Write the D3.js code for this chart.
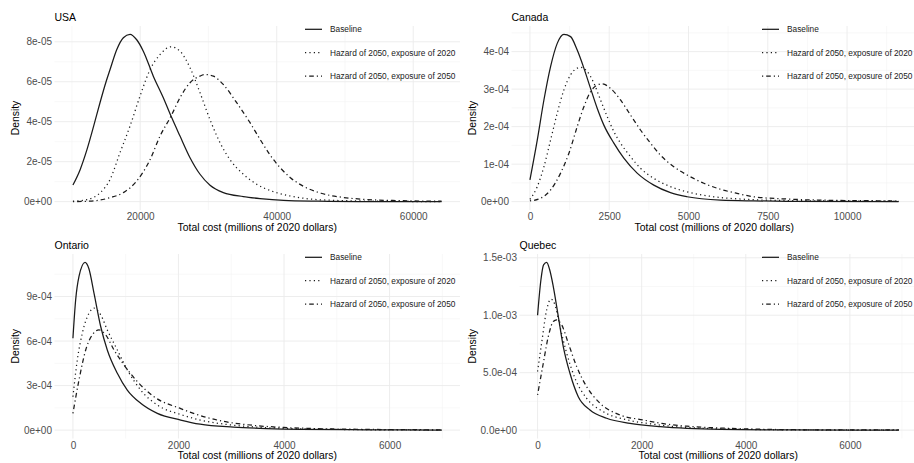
<!DOCTYPE html>
<html>
<head>
<meta charset="utf-8">
<script src="https://cdnjs.cloudflare.com/ajax/libs/d3/7.8.5/d3.min.js"></script>
<style>
  body { margin: 0; background: #fff; }
  svg { display: block; font-family: "Liberation Sans", Arial, sans-serif; }
</style>
</head>
<body>
<script>
  // Series names (legend)
  var seriesNames = ["Baseline", "Hazard of 2050, exposure of 2020", "Hazard of 2050, exposure of 2050"];
  var xTitle = "Total cost (millions of 2020 dollars)";
  var yTitle = "Density";

  // USA : [total cost, density]
  var usaBaseline = [[10146,0.83e-5],[11200,1.6e-5],[12200,2.6e-5],[13200,3.8e-5],[14150,5.0e-5],[15000,6.0e-5],[15576,6.6e-5],[16557,7.6e-5],[17533,8.2e-5],[18507,8.37e-5],[19488,8.1e-5],[20455,7.53e-5],[21920,6.28e-5],[23386,5.2e-5],[24513,4.28e-5],[25832,3.28e-5],[27297,2.2e-5],[28762,1.37e-5],[30227,0.82e-5],[32180,0.45e-5],[35111,0.25e-5],[37553,0.15e-5],[41000,0.06e-5],[46000,0.02e-5],[52000,0],[64146,0]];
  var usaExp2020 = [[10146,0.02e-5],[12195,0.1e-5],[14146,0.45e-5],[15576,1.1e-5],[17041,2.45e-5],[18507,3.78e-5],[19972,5.28e-5],[21437,6.6e-5],[22903,7.36e-5],[24513,7.75e-5],[25832,7.53e-5],[27297,6.7e-5],[28762,5.45e-5],[30227,4.1e-5],[31692,2.95e-5],[33157,2.1e-5],[35111,1.37e-5],[37064,0.87e-5],[39500,0.5e-5],[42500,0.25e-5],[46000,0.1e-5],[53000,0.03e-5],[64146,0]];
  var usaExp2050 = [[10146,0],[12195,0.02e-5],[14146,0.08e-5],[15576,0.2e-5],[17533,0.45e-5],[19488,1.03e-5],[21437,2.1e-5],[22903,3.28e-5],[24513,4.28e-5],[25832,5.2e-5],[27297,5.95e-5],[28762,6.28e-5],[29495,6.36e-5],[30716,6.28e-5],[32180,5.86e-5],[34133,4.95e-5],[36087,3.95e-5],[37553,3.12e-5],[39000,2.35e-5],[40500,1.7e-5],[42000,1.2e-5],[44000,0.75e-5],[46500,0.42e-5],[49500,0.22e-5],[53000,0.11e-5],[58000,0.05e-5],[64146,0.02e-5]];
  var usaXTicks = [20000, 40000, 60000];
  var usaYTicks = [0, 2e-5, 4e-5, 6e-5, 8e-5];
  var usaYLabels = ["0e+00", "2e-05", "4e-05", "6e-05", "8e-05"];

  // Canada
  var canBaseline = [[0,0.58e-4],[231,1.64e-4],[441,2.71e-4],[651,3.6e-4],[861,4.22e-4],[1071,4.46e-4],[1281,4.4e-4],[1491,4.04e-4],[1701,3.56e-4],[1911,3.02e-4],[2121,2.49e-4],[2331,2.04e-4],[2646,1.56e-4],[2961,1.16e-4],[3381,0.76e-4],[3906,0.44e-4],[4431,0.24e-4],[4956,0.13e-4],[6006,0.04e-4],[7056,0.02e-4],[8106,0.01e-4],[11624,0]];
  var canExp2020 = [[0,0.06e-4],[231,0.4e-4],[441,0.93e-4],[651,1.64e-4],[861,2.36e-4],[1071,2.98e-4],[1281,3.38e-4],[1491,3.56e-4],[1596,3.58e-4],[1806,3.47e-4],[2016,3.16e-4],[2226,2.71e-4],[2436,2.27e-4],[2646,1.87e-4],[2856,1.56e-4],[3171,1.2e-4],[3486,0.89e-4],[3906,0.62e-4],[4431,0.4e-4],[4956,0.26e-4],[5796,0.13e-4],[6846,0.06e-4],[8106,0.03e-4],[11624,0.01e-4]];
  var canExp2050 = [[0,0.02e-4],[336,0.09e-4],[651,0.31e-4],[966,0.76e-4],[1229,1.29e-4],[1491,2.0e-4],[1701,2.53e-4],[1911,2.93e-4],[2121,3.11e-4],[2279,3.14e-4],[2541,3.02e-4],[2856,2.71e-4],[3171,2.31e-4],[3486,1.91e-4],[3801,1.56e-4],[4116,1.24e-4],[4536,0.93e-4],[4956,0.71e-4],[5481,0.49e-4],[6006,0.33e-4],[6531,0.22e-4],[7056,0.13e-4],[8106,0.07e-4],[9156,0.04e-4],[11624,0.02e-4]];
  var canXTicks = [0, 2500, 5000, 7500, 10000];
  var canYTicks = [0, 1e-4, 2e-4, 3e-4, 4e-4];
  var canYLabels = ["0e+00", "1e-04", "2e-04", "3e-04", "4e-04"];

  // Ontario
  var ontBaseline = [[0,6.19e-4],[52,8.78e-4],[115,10.35e-4],[229,11.3e-4],[300,10.9e-4],[399,9.23e-4],[526,6.98e-4],[651,5.4e-4],[841,3.83e-4],[1030,2.7e-4],[1284,1.81e-4],[1599,1.13e-4],[2042,0.68e-4],[2410,0.4e-4],[3041,0.2e-4],[3672,0.1e-4],[4303,0.05e-4],[5565,0.02e-4],[6985,0]];
  var ontExp2020 = [[0,2.25e-4],[83,4.73e-4],[178,6.53e-4],[305,7.88e-4],[399,8.22e-4],[526,7.77e-4],[651,6.75e-4],[841,5.4e-4],[1030,4.06e-4],[1284,2.7e-4],[1599,1.69e-4],[2042,1.05e-4],[2410,0.68e-4],[2915,0.38e-4],[3420,0.22e-4],[3988,0.12e-4],[4934,0.05e-4],[6985,0]];
  var ontExp2050 = [[0,1.13e-4],[115,3.38e-4],[242,5.4e-4],[367,6.42e-4],[494,6.75e-4],[621,6.42e-4],[778,5.4e-4],[968,4.39e-4],[1220,3.27e-4],[1536,2.25e-4],[2042,1.45e-4],[2537,0.85e-4],[2915,0.55e-4],[3420,0.32e-4],[3988,0.18e-4],[4619,0.1e-4],[5565,0.05e-4],[6985,0.02e-4]];
  var ontXTicks = [0, 2000, 4000, 6000];
  var ontYTicks = [0, 3e-4, 6e-4, 9e-4];
  var ontYLabels = ["0e+00", "3e-04", "6e-04", "9e-04"];

  // Quebec
  var queBaseline = [[0,10.0e-4],[64,13.07e-4],[115,14.39e-4],[175,14.6e-4],[230,14.0e-4],[302,12.5e-4],[398,9.9e-4],[494,7.27e-4],[622,4.95e-4],[782,2.91e-4],[1007,1.75e-4],[1327,1.03e-4],[1775,0.59e-4],[2359,0.3e-4],[2872,0.15e-4],[3513,0.06e-4],[4795,0.01e-4],[6942,0]];
  var queExp2020 = [[0,5.1e-4],[78,7.57e-4],[175,10.47e-4],[257,11.4e-4],[334,10.9e-4],[430,9.01e-4],[559,6.7e-4],[718,4.52e-4],[943,2.77e-4],[1262,1.6e-4],[1711,0.9e-4],[2167,0.55e-4],[2615,0.32e-4],[3192,0.16e-4],[4025,0.06e-4],[5436,0.01e-4],[6942,0]];
  var queExp2050 = [[0,3.06e-4],[110,5.82e-4],[206,8.14e-4],[302,9.45e-4],[366,9.6e-4],[463,9.16e-4],[590,7.57e-4],[751,5.53e-4],[943,3.78e-4],[1199,2.34e-4],[1583,1.32e-4],[2030,0.88e-4],[2359,0.6e-4],[2872,0.34e-4],[3513,0.18e-4],[4154,0.09e-4],[5115,0.03e-4],[6942,0.01e-4]];
  var queXTicks = [0, 2000, 4000, 6000];
  var queYTicks = [0, 5e-4, 1e-3, 1.5e-3];
  var queYLabels = ["0.0e+00", "5.0e-04", "1.0e-03", "1.5e-03"];

  // line type per series
  var dashes = [null, "1.2,3.2", "1.2,3,4.6,3"];

  // panel layout (left, right, top, bottom of the plotting area)
  var panels = [
    { title: "USA", series: [usaBaseline, usaExp2020, usaExp2050], xTicks: usaXTicks, yTicks: usaYTicks, yLabels: usaYLabels,
      box: { left: 54.5, right: 460, top: 26, bottom: 210 }, yTitleX: 15 },
    { title: "Canada", series: [canBaseline, canExp2020, canExp2050], xTicks: canXTicks, yTicks: canYTicks, yLabels: canYLabels,
      box: { left: 511.5, right: 917, top: 26, bottom: 210 }, yTitleX: 472 },
    { title: "Ontario", series: [ontBaseline, ontExp2020, ontExp2050], xTicks: ontXTicks, yTicks: ontYTicks, yLabels: ontYLabels,
      box: { left: 54.5, right: 460, top: 254, bottom: 438.5 }, yTitleX: 15 },
    { title: "Quebec", series: [queBaseline, queExp2020, queExp2050], xTicks: queXTicks, yTicks: queYTicks, yLabels: queYLabels,
      box: { left: 519.5, right: 917, top: 254, bottom: 438.5 }, yTitleX: 472 }
  ];

  var svg = d3.select("body")
    .append("svg")
    .attr("width", 914)
    .attr("height", 463);

  // ggplot style: 5% expansion on both sides
  function expand(ext) {
    var pad = (ext[1] - ext[0]) * 0.05;
    return [ext[0] - pad, ext[1] + pad];
  }

  // minor breaks halfway between majors
  function minors(ticks, domain) {
    var step = ticks[1] - ticks[0], out = [];
    for (var v = ticks[0] - step / 2; v <= domain[1]; v += step) {
      if (v >= domain[0] && ticks.indexOf(v) == -1) out.push(v);
    }
    return out;
  }

  panels.forEach(function (p) {
    var b = p.box;
    var all = d3.merge(p.series);
    var xRange = d3.scaleLinear()
      .domain(expand(d3.extent(all, function (d) { return d[0]; })))
      .range([b.left, b.right]);
    var yRange = d3.scaleLinear()
      .domain(expand([0, d3.max(all, function (d) { return d[1]; })]))
      .range([b.bottom, b.top]);

    var g = svg.append("g");

    // minor grid
    g.selectAll("line.minor-x")
      .data(minors(p.xTicks, xRange.domain()))
      .enter().append("line")
      .attr("x1", function (d) { return xRange(d); })
      .attr("x2", function (d) { return xRange(d); })
      .attr("y1", b.top).attr("y2", b.bottom)
      .attr("stroke", "#f4f4f4").attr("stroke-width", 0.6);
    g.selectAll("line.minor-y")
      .data(minors(p.yTicks, yRange.domain()))
      .enter().append("line")
      .attr("y1", function (d) { return yRange(d); })
      .attr("y2", function (d) { return yRange(d); })
      .attr("x1", b.left).attr("x2", b.right)
      .attr("stroke", "#f4f4f4").attr("stroke-width", 0.6);

    // major grid
    g.selectAll("line.major-x")
      .data(p.xTicks)
      .enter().append("line")
      .attr("x1", function (d) { return xRange(d); })
      .attr("x2", function (d) { return xRange(d); })
      .attr("y1", b.top).attr("y2", b.bottom)
      .attr("stroke", "#ebebeb").attr("stroke-width", 0.9);
    g.selectAll("line.major-y")
      .data(p.yTicks)
      .enter().append("line")
      .attr("y1", function (d) { return yRange(d); })
      .attr("y2", function (d) { return yRange(d); })
      .attr("x1", b.left).attr("x2", b.right)
      .attr("stroke", "#ebebeb").attr("stroke-width", 0.9);

    // axes (labels only)
    var xAxis = d3.axisBottom(xRange).tickValues(p.xTicks).tickSize(0).tickPadding(3)
      .tickFormat(function (d) { return String(d); });
    var yAxis = d3.axisLeft(yRange).tickValues(p.yTicks).tickSize(0).tickPadding(2.5)
      .tickFormat(function (d, i) { return p.yLabels[i]; });

    var gx = g.append("g")
      .attr("transform", "translate(0," + b.bottom + ")")
      .call(xAxis);
    var gy = g.append("g")
      .attr("transform", "translate(" + b.left + ",0)")
      .call(yAxis);
    [gx, gy].forEach(function (a) {
      a.select(".domain").remove();
      a.selectAll("text")
        .attr("fill", "#4d4d4d")
        .style("font-size", "10px")
        .style("font-family", "'Liberation Sans', Arial, sans-serif");
    });

    // density curves
    var valueline = d3.line()
      .x(function (d) { return xRange(d[0]); })
      .y(function (d) { return yRange(d[1]); })
      .curve(d3.curveMonotoneX);

    g.selectAll("path.curve")
      .data(p.series)
      .enter().append("path")
      .attr("d", valueline)
      .attr("fill", "none")
      .attr("stroke", "#1a1a1a")
      .attr("stroke-width", 1.25)
      .attr("stroke-dasharray", function (d, i) { return dashes[i]; });

    // titles
    g.append("text")
      .attr("x", b.left)
      .attr("y", b.top - 5.5)
      .style("font-size", "10.5px")
      .attr("fill", "#000")
      .text(p.title);

    g.append("text")
      .attr("x", (b.left + b.right) / 2)
      .attr("y", b.bottom + 20.5)
      .attr("text-anchor", "middle")
      .style("font-size", "10.4px")
      .attr("fill", "#000")
      .text(xTitle);

    g.append("text")
      .attr("transform", "translate(" + p.yTitleX + "," + (b.top + b.bottom) / 2 + ") rotate(-90)")
      .attr("dy", "0.35em")
      .attr("text-anchor", "middle")
      .style("font-size", "10.4px")
      .attr("fill", "#000")
      .text(yTitle);

    // legend inside top right
    var lg = g.append("g")
      .attr("transform", "translate(" + (b.right - 155) + "," + (b.top + 3.3) + ")");
    var rows = lg.selectAll("g")
      .data(seriesNames)
      .enter().append("g")
      .attr("transform", function (d, i) { return "translate(0," + i * 23.4 + ")"; });
    rows.append("line")
      .attr("x1", 0).attr("x2", 17)
      .attr("stroke", "#1a1a1a")
      .attr("stroke-width", 1.25)
      .attr("stroke-dasharray", function (d, i) { return dashes[i]; });
    rows.append("text")
      .attr("x", 25)
      .attr("dy", "0.35em")
      .style("font-size", "8.3px")
      .attr("fill", "#1a1a1a")
      .text(function (d) { return d; });
  });
</script>
</body>
</html>
